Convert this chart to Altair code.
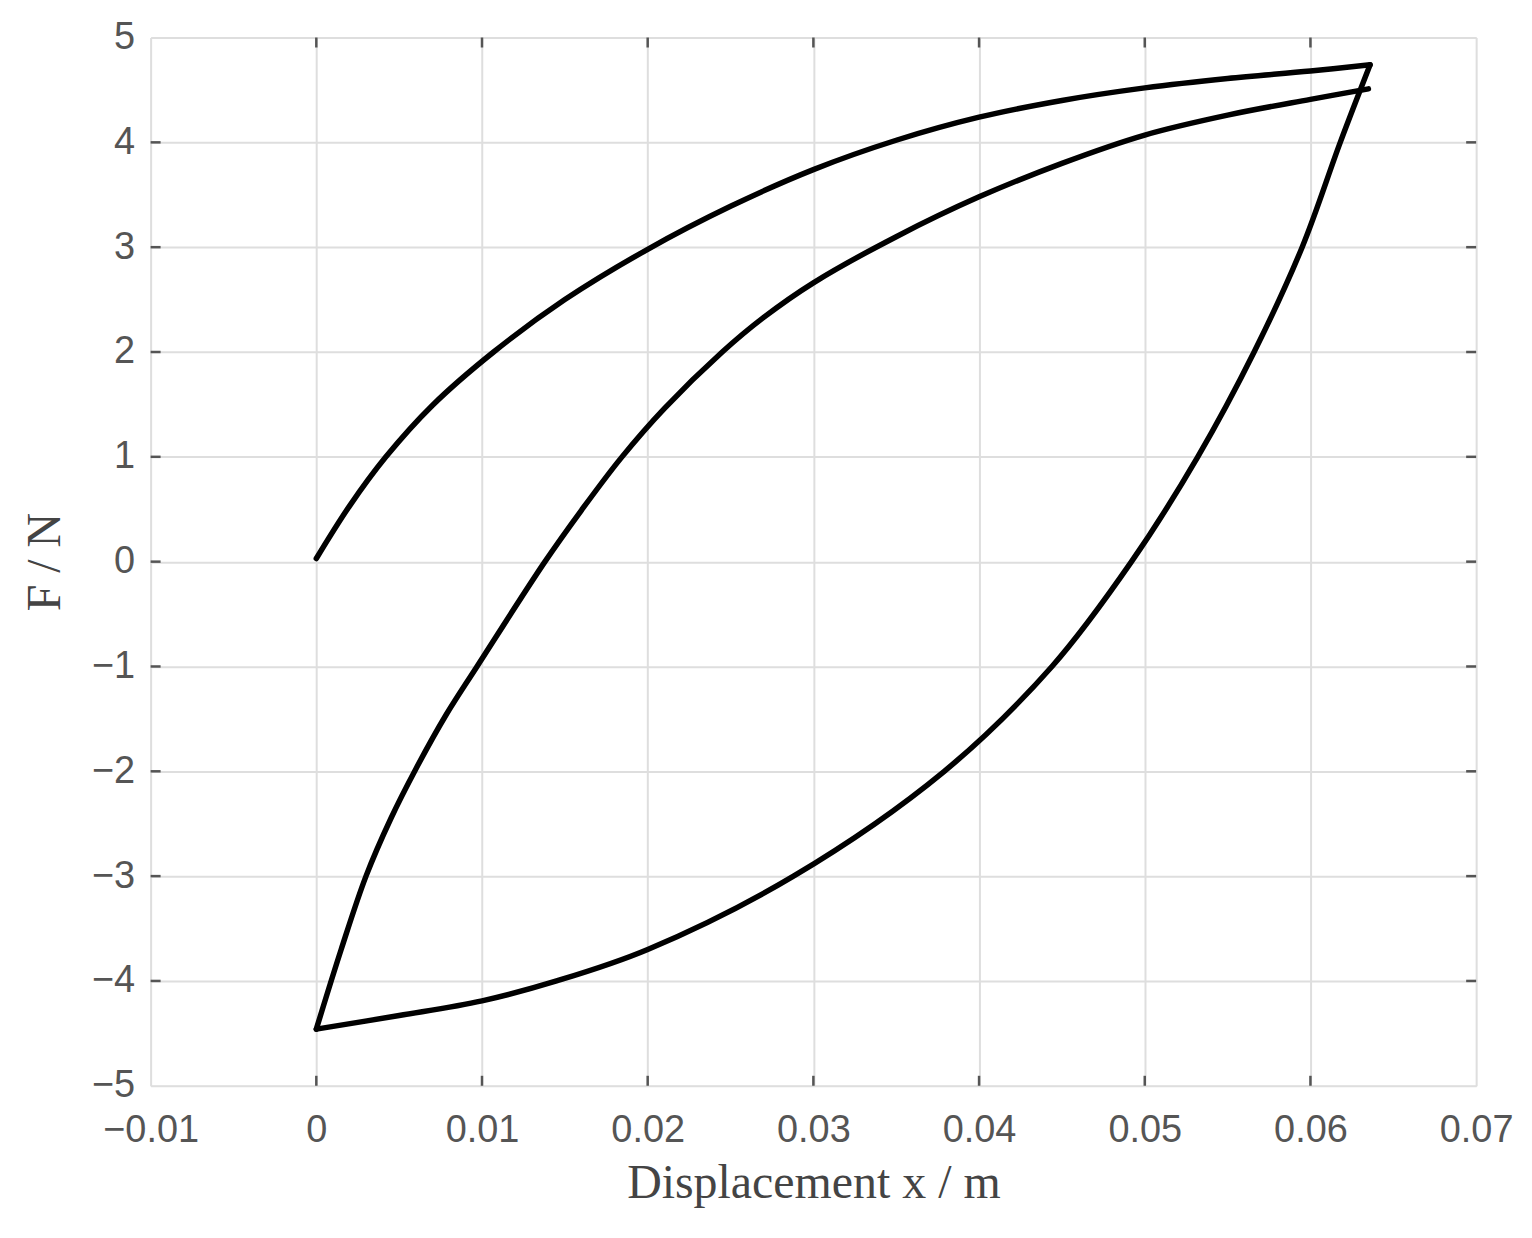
import altair as alt
import pandas as pd

# Loading branch: from origin up to peak
up_x = [0.0, 0.002, 0.0042, 0.007, 0.0107, 0.015, 0.020, 0.025, 0.030, 0.035, 0.040, 0.045, 0.050, 0.055, 0.060, 0.0636]
up_y = [0.03, 0.53, 1.00, 1.49, 2.00, 2.50, 2.98, 3.39, 3.74, 4.02, 4.24, 4.40, 4.52, 4.61, 4.68, 4.74]

# Unloading branch: from peak down to (0, -4.46)
down_x = [0.0636, 0.0618, 0.0595, 0.0566, 0.0532, 0.0492, 0.0444, 0.0379, 0.0288, 0.020, 0.0145, 0.010, 0.005, 0.0]
down_y = [4.74, 4.00, 3.00, 2.00, 1.00, 0.00, -1.00, -2.00, -3.00, -3.70, -4.00, -4.19, -4.33, -4.46]

# Reloading branch: from (0, -4.46) back up
re_x = [0.0, 0.0015, 0.0030, 0.0045, 0.0060, 0.0078, 0.0097, 0.0138, 0.016, 0.0184, 0.021, 0.0245, 0.027, 0.030,
        0.035, 0.040, 0.045, 0.050, 0.055, 0.060, 0.0635]
re_y = [-4.46, -3.70, -3.00, -2.45, -1.98, -1.47, -1.00, 0.00, 0.49, 0.99, 1.46, 2.00, 2.33, 2.66,
        3.10, 3.48, 3.80, 4.07, 4.26, 4.41, 4.51]

x_ticks = [-0.01, 0.0, 0.01, 0.02, 0.03, 0.04, 0.05, 0.06, 0.07]
y_ticks = [-5, -4, -3, -2, -1, 0, 1, 2, 3, 4, 5]

rows = []
n = 0
for seg, (sx, sy) in enumerate([(up_x, up_y), (down_x, down_y), (re_x, re_y)]):
    for a, b in zip(sx, sy):
        rows.append({"x": a, "F": b, "seg": seg, "order": n})
        n += 1
df = pd.DataFrame(rows)

W, H = 1329, 1051
xscale = alt.Scale(domain=[-0.01, 0.07], nice=False, zero=False)
yscale = alt.Scale(domain=[-5, 5], nice=False, zero=False)

label_font = "Liberation Sans"
title_font = "Liberation Serif"

x_axis = alt.Axis(values=x_ticks, format=".2~f", title="Displacement x / m",
                  grid=True, gridColor="#dedede", gridWidth=2, domain=False, ticks=False,
                  labelFont=label_font, labelFontSize=38, labelColor="#555555", labelPadding=26,
                  titleFont=title_font, titleFontSize=48, titleFontWeight="normal", titleColor="#444444",
                  titlePadding=10, labelFlush=False)
y_axis = alt.Axis(values=y_ticks, format="d", title="F / N",
                  grid=True, gridColor="#dedede", gridWidth=2, domain=False, ticks=False,
                  labelFont=label_font, labelFontSize=38, labelColor="#555555", labelPadding=16,
                  titleFont=title_font, titleFontSize=48, titleFontWeight="normal", titleColor="#444444",
                  titlePadding=22, labelFlush=False)

line = alt.Chart(df).mark_line(color="black", strokeWidth=5.5, strokeJoin="round", strokeCap="round",
                               interpolate="catmull-rom").encode(
    x=alt.X("x:Q", scale=xscale, axis=x_axis),
    y=alt.Y("F:Q", scale=yscale, axis=y_axis),
    detail="seg:N",
    order="order:Q",
)

xt = pd.DataFrame({"t": x_ticks[1:-1]})
yt = pd.DataFrame({"t": y_ticks[1:-1]})
tick_color = "#555555"
xt_bot = alt.Chart(xt).mark_rule(color=tick_color, strokeWidth=2.5).encode(
    x=alt.X("t:Q", scale=xscale), y=alt.value(H - 10), y2=alt.value(H))
xt_top = alt.Chart(xt).mark_rule(color=tick_color, strokeWidth=2.5).encode(
    x=alt.X("t:Q", scale=xscale), y=alt.value(0), y2=alt.value(10))
yt_left = alt.Chart(yt).mark_rule(color=tick_color, strokeWidth=2.5).encode(
    y=alt.Y("t:Q", scale=yscale), x=alt.value(0), x2=alt.value(10))
yt_right = alt.Chart(yt).mark_rule(color=tick_color, strokeWidth=2.5).encode(
    y=alt.Y("t:Q", scale=yscale), x=alt.value(W - 10), x2=alt.value(W))

chart = alt.layer(line, xt_bot, xt_top, yt_left, yt_right).properties(
    width=W, height=H,
    autosize=alt.AutoSizeParams(type="none"),
    padding={"left": 143, "top": 28, "right": 48, "bottom": 140},
).configure_view(stroke="#555555", strokeWidth=2.5).configure(background="white")

chart.save("out.html", embed_options={"renderer": "svg", "actions": False})
